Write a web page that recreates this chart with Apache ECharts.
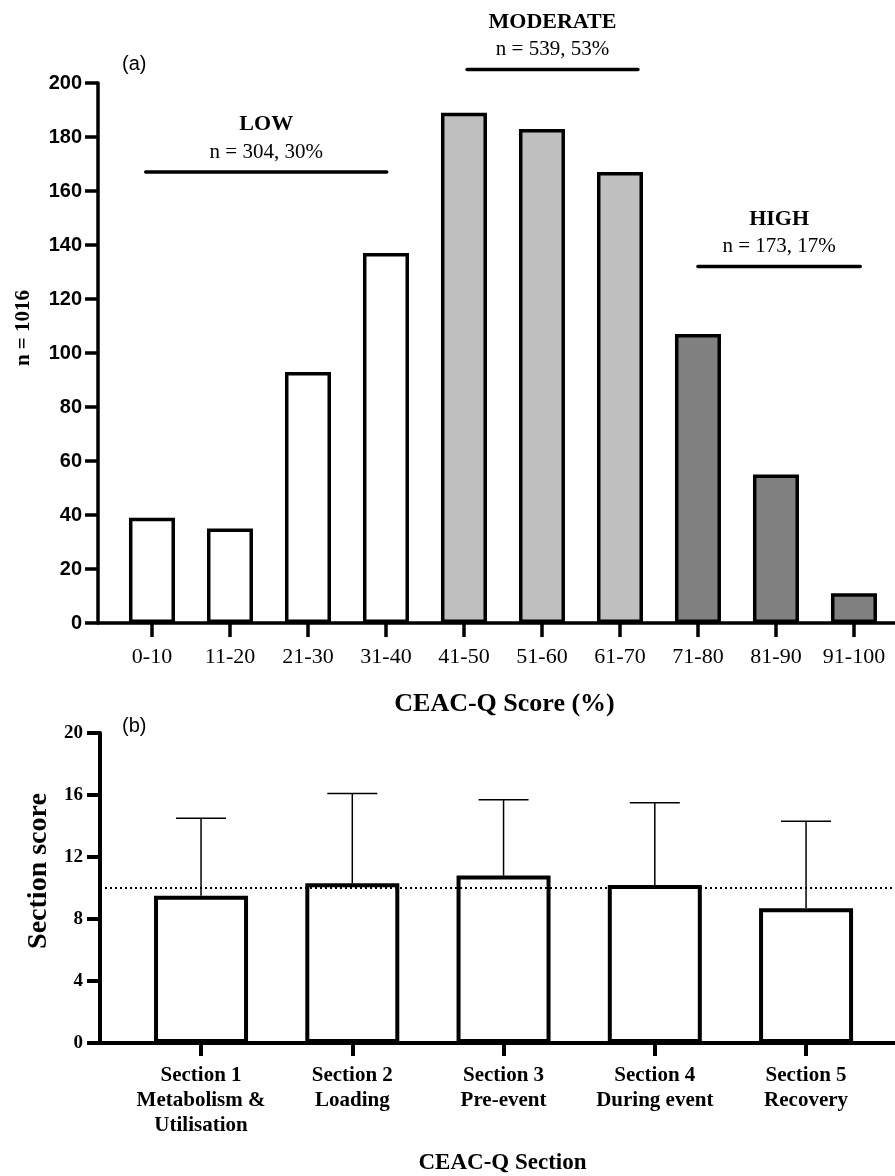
<!DOCTYPE html>
<html>
<head>
    <meta charset="utf-8">
    <title>CEAC-Q scores</title>
    <script src="https://cdn.jsdelivr.net/npm/echarts@6/dist/echarts.min.js"></script>
    <style>
        html, body { margin: 0; padding: 0; background: #fff; }
        #chart { width: 895px; height: 1176px; }
    </style>
</head>
<body>
<div id="chart"></div>
<script type="text/javascript">
    // (a) distribution of CEAC-Q total score
    var scoreBands = ['0-10', '11-20', '21-30', '31-40', '41-50', '51-60', '61-70', '71-80', '81-90', '91-100'];
    var bandCounts = [39, 35, 93, 137, 189, 183, 167, 107, 55, 11];
    var bandLevel = ['low', 'low', 'low', 'low', 'mod', 'mod', 'mod', 'high', 'high', 'high'];
    var levelColors = { low: '#ffffff', mod: '#bfbfbf', high: '#808080' };

    // group brackets above the bars (x in band index units, y in counts)
    var groupNames = ['LOW', 'MODERATE', 'HIGH'];
    var groupStats = ['n = 304, 30%', 'n = 539, 53%', 'n = 173, 17%'];
    var groupFrom = [-0.08, 4.04, 7.0];
    var groupTo = [3.01, 6.23, 9.08];
    var groupY = [167, 205, 132];

    // (b) section scores, mean + SD
    var sections = ['Section 1\nMetabolism &\nUtilisation', 'Section 2\nLoading', 'Section 3\nPre-event',
        'Section 4\nDuring event', 'Section 5\nRecovery'];
    var sectionMean = [9.5, 10.3, 10.8, 10.2, 8.7];
    var sectionSD = [5.0, 5.8, 4.9, 5.3, 5.6];
    var midScore = 10;

    var serif = 'Liberation Serif';
    var sans = 'Liberation Sans';

    var bandIdx = scoreBands.map(function (b, i) { return i; });
    var secIdx = sections.map(function (s, i) { return i; });

    var series = [];

    series.push({
        type: 'bar', xAxisIndex: 0, yAxisIndex: 0, barWidth: 46,
        data: bandCounts.map(function (v, i) { return [i, v]; }),
        itemStyle: {
            borderColor: '#000', borderWidth: 3.5,
            color: function (p) { return levelColors[bandLevel[p.dataIndex]]; }
        },
        z: 3
    });

    groupNames.forEach(function (name, g) {
        series.push({
            type: 'line', xAxisIndex: 0, yAxisIndex: 0, clip: false, symbol: 'none', silent: true,
            data: [[groupFrom[g], groupY[g]], [groupTo[g], groupY[g]]],
            lineStyle: { color: '#000', width: 3.5, cap: 'round' }
        });
        series.push({
            type: 'scatter', xAxisIndex: 0, yAxisIndex: 0, clip: false, symbolSize: 1, silent: true,
            itemStyle: { color: 'rgba(255,255,255,0)', opacity: 1 },
            data: [[(groupFrom[g] + groupTo[g]) / 2, groupY[g]]],
            label: {
                show: true, position: 'top', distance: 6, color: '#000',
                formatter: '{h|' + name + '}\n{n|' + groupStats[g] + '}',
                rich: {
                    h: { fontFamily: serif, fontWeight: 'bold', fontSize: 22, lineHeight: 28, color: '#000' },
                    n: { fontFamily: serif, fontSize: 21, lineHeight: 27, color: '#000' }
                }
            },
            labelLayout: { hideOverlap: false }
        });
    });

    // dotted reference line, kept behind the bars
    series.push({
        type: 'line', xAxisIndex: 1, yAxisIndex: 1, data: [], z: 1,
        markLine: {
            silent: true, symbol: 'none', label: { show: false },
            lineStyle: { color: '#000', width: 2, type: [2, 3] },
            data: [{ yAxis: midScore }]
        }
    });

    series.push({
        type: 'bar', xAxisIndex: 1, yAxisIndex: 1, barWidth: 94,
        data: sectionMean.map(function (v, i) { return [i, v]; }),
        itemStyle: { color: '#fff', borderColor: '#000', borderWidth: 4 },
        z: 3
    });

    series.push({
        type: 'custom', xAxisIndex: 1, yAxisIndex: 1, z: 4,
        data: sectionMean.map(function (v, i) { return [i, v, v + sectionSD[i]]; }),
        renderItem: function (params, api) {
            var base = api.coord([api.value(0), api.value(1)]);
            var top = api.coord([api.value(0), api.value(2)]);
            return {
                type: 'group',
                children: [
                    { type: 'line', shape: { x1: base[0], y1: base[1], x2: top[0], y2: top[1] },
                        style: { stroke: '#000', lineWidth: 1.5 } },
                    { type: 'line', shape: { x1: top[0] - 25, y1: top[1], x2: top[0] + 25, y2: top[1] },
                        style: { stroke: '#000', lineWidth: 1.5 } }
                ]
            };
        }
    });

    var myChart = echarts.init(document.getElementById('chart'));
    myChart.setOption({
        animation: false,
        backgroundColor: '#fff',
        title: [
            { text: '(a)', left: 122, top: 54, padding: 0,
                textStyle: { fontFamily: sans, fontWeight: 'normal', fontSize: 20, color: '#000' } },
            { text: '(b)', left: 122, top: 716, padding: 0,
                textStyle: { fontFamily: sans, fontWeight: 'normal', fontSize: 20, color: '#000' } }
        ],
        grid: [
            { left: 98, top: 83, width: 797, height: 540, outerBoundsMode: 'none' },
            { left: 100, top: 733, width: 795, height: 310, outerBoundsMode: 'none' }
        ],
        xAxis: [
            {
                type: 'value', gridIndex: 0, min: -0.692, max: 9.526,
                axisLine: { onZero: false, lineStyle: { color: '#000', width: 3.5 } },
                axisTick: { show: true, customValues: bandIdx, length: 14, lineStyle: { color: '#000', width: 3.5 } },
                axisLabel: {
                    customValues: bandIdx, margin: 23, color: '#000', fontFamily: serif, fontSize: 22,
                    formatter: function (v) { return scoreBands[Math.round(v)]; }
                },
                splitLine: { show: false },
                name: 'CEAC-Q Score (%)', nameLocation: 'middle', nameGap: 68,
                nameTextStyle: { fontFamily: serif, fontWeight: 'bold', fontSize: 26, color: '#000', padding: [0, 0, 0, 16] }
            },
            {
                type: 'value', gridIndex: 1, min: -0.668, max: 4.588,
                axisLine: { onZero: false, lineStyle: { color: '#000', width: 4 } },
                axisTick: { show: true, customValues: secIdx, length: 13, lineStyle: { color: '#000', width: 4 } },
                axisLabel: {
                    customValues: secIdx, margin: 20, color: '#000', fontFamily: serif, fontWeight: 'bold',
                    fontSize: 21, lineHeight: 25,
                    formatter: function (v) { return sections[Math.round(v)]; }
                },
                splitLine: { show: false },
                name: 'CEAC-Q Section', nameLocation: 'middle', nameGap: 109,
                nameTextStyle: { fontFamily: serif, fontWeight: 'bold', fontSize: 23, color: '#000', padding: [0, 0, 0, 10] }
            }
        ],
        yAxis: [
            {
                type: 'value', gridIndex: 0, min: 0, max: 200, interval: 20,
                axisLine: { show: true, onZero: false, lineStyle: { color: '#000', width: 3.5 } },
                axisTick: { show: true, length: 13, lineStyle: { color: '#000', width: 3.5 } },
                axisLabel: { margin: 16, color: '#000', fontFamily: sans, fontWeight: 'bold', fontSize: 20 },
                splitLine: { show: false },
                name: 'n = 1016', nameLocation: 'middle', nameRotate: 90, nameGap: 64,
                nameTextStyle: { fontFamily: serif, fontWeight: 'bold', fontSize: 21, color: '#000', padding: [0, 0, 0, 50] }
            },
            {
                type: 'value', gridIndex: 1, min: 0, max: 20, interval: 4,
                axisLine: { show: true, onZero: false, lineStyle: { color: '#000', width: 4 } },
                axisTick: { show: true, length: 13, lineStyle: { color: '#000', width: 4 } },
                axisLabel: { margin: 17, color: '#000', fontFamily: serif, fontWeight: 'bold', fontSize: 19 },
                splitLine: { show: false },
                name: 'Section score', nameLocation: 'middle', nameRotate: 90, nameGap: 36,
                nameTextStyle: { fontFamily: serif, fontWeight: 'bold', fontSize: 28, color: '#000', padding: [0, 0, 0, 34] }
            }
        ],
        series: series
    });
</script>
</body>
</html>
